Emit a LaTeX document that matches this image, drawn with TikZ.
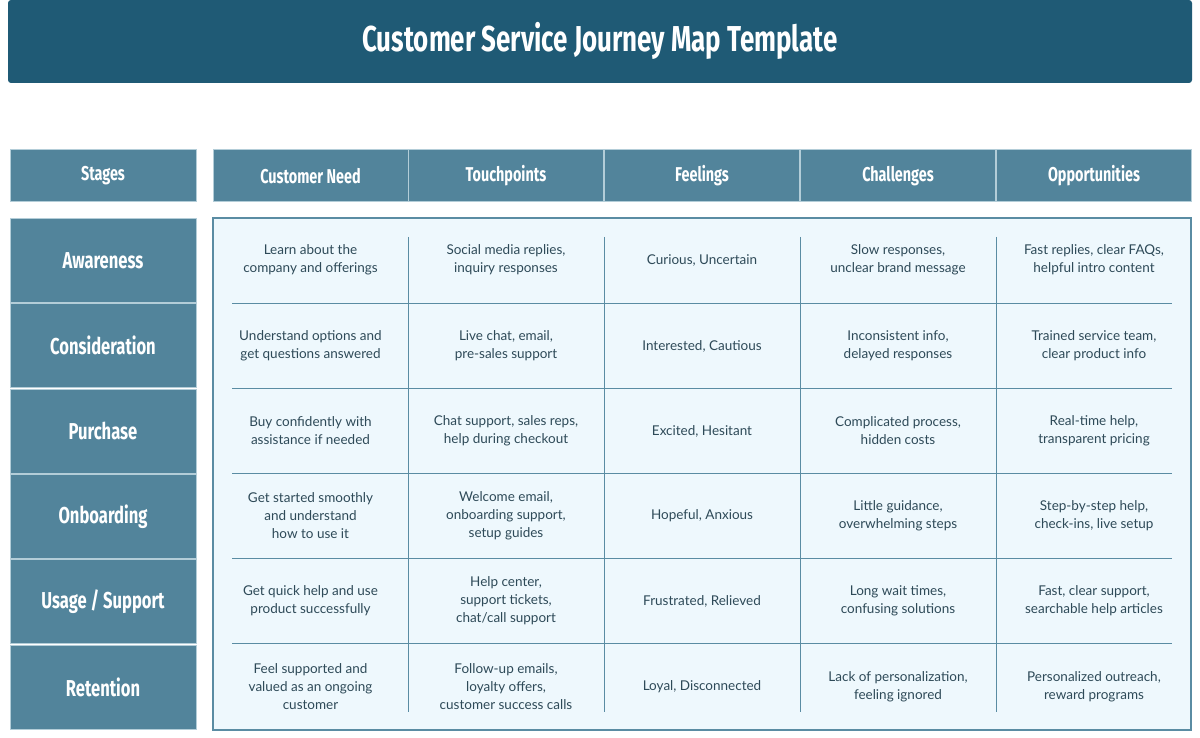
\documentclass[tikz,border=0pt]{standalone}
\usepackage{fontspec}
\setmainfont{Lato}
\newfontfamily\cond[FakeStretch=0.72]{Fira Sans}
\definecolor{titlebg}{HTML}{1F5A75}
\definecolor{hdr}{HTML}{52849B}
\definecolor{hdrline}{HTML}{B3CDD8}
\definecolor{panel}{HTML}{EEF8FD}
\definecolor{pline}{HTML}{5A8CA3}
\definecolor{txt}{HTML}{2E4A58}
\tikzset{
 hbox/.style={draw=hdrline,line width=1pt,fill=hdr,text=white,font=\cond\bfseries\fontsize{20}{22}\selectfont,align=center},
 cell/.style={text=txt,font=\fontsize{13.5}{18}\selectfont,align=center},
 div/.style={draw=pline,line width=1pt}
}
\begin{document}
\begin{tikzpicture}[x=1pt,y=-1pt]
\useasboundingbox (0,0) rectangle (1200,738);
\fill[titlebg,rounded corners=3pt] (8,0) rectangle (1192,83);
\node[text=white,font=\cond\bfseries\fontsize{36}{40}\selectfont] (title) at (600,41) {Customer Service Journey Map Template};
\node[hbox,minimum width=186,minimum height=52] (hs) at (103,176) {Stages};
\def\colx{{310.5,506,702,898,1094}}
\foreach \t [count=\i from 0] in {Customer Need,Touchpoints,Feelings,Challenges,Opportunities}{
  \pgfmathsetmacro\cx{\colx[\i]}
  \node[hbox,minimum width=195,minimum height=52] (h\i) at (\cx,176) {\t};
}
\draw[pline,fill=panel,line width=1.2pt] (213,218) rectangle (1191,730);
\foreach \x in {408,604,800,996} \draw[div] (\x,237) -- (\x,712);
\foreach \y in {303,388,473,558,643} \draw[div] (232,\y) -- (1172,\y);
\foreach \t [count=\i from 0] in {Awareness,Consideration,Purchase,Onboarding,Usage / Support,Retention}{
  \pgfmathsetmacro\cy{260.5+85.3*\i}
  \node[hbox,font=\cond\bfseries\fontsize{23}{26}\selectfont,minimum width=186,minimum height=84] (s\i) at (103,\cy) {\t};
}
\def\row#1#2#3#4#5#6{%
 \node[cell] (c#1a) at (310.5,#2) {#3};
 \node[cell] (c#1b) at (506,#2) {#4};
 \node[cell] (c#1c) at (702,#2) {#5};
 \node[cell] (c#1d) at (898,#2) {#6};}
\row{0}{260}{Learn about the\\company and offerings}{Social media replies,\\inquiry responses}{Curious, Uncertain}{Slow responses,\\unclear brand message}
\node[cell] (c0e) at (1094,260) {Fast replies, clear FAQs,\\helpful intro content};
\row{1}{346}{Understand options and\\get questions answered}{Live chat, email,\\pre-sales support}{Interested, Cautious}{Inconsistent info,\\delayed responses}
\node[cell] (c1e) at (1094,346) {Trained service team,\\clear product info};
\row{2}{431}{Buy confidently with\\assistance if needed}{Chat support, sales reps,\\help during checkout}{Excited, Hesitant}{Complicated process,\\hidden costs}
\node[cell] (c2e) at (1094,431) {Real-time help,\\transparent pricing};
\row{3}{516}{Get started smoothly\\and understand\\how to use it}{Welcome email,\\onboarding support,\\setup guides}{Hopeful, Anxious}{Little guidance,\\overwhelming steps}
\node[cell] (c3e) at (1094,516) {Step-by-step help,\\check-ins, live setup};
\row{4}{601}{Get quick help and use\\product successfully}{Help center,\\support tickets,\\chat/call support}{Frustrated, Relieved}{Long wait times,\\confusing solutions}
\node[cell] (c4e) at (1094,601) {Fast, clear support,\\searchable help articles};
\row{5}{687}{Feel supported and\\valued as an ongoing\\customer}{Follow-up emails,\\loyalty offers,\\customer success calls}{Loyal, Disconnected}{Lack of personalization,\\feeling ignored}
\node[cell] (c5e) at (1094,687) {Personalized outreach,\\reward programs};
\end{tikzpicture}
\end{document}
